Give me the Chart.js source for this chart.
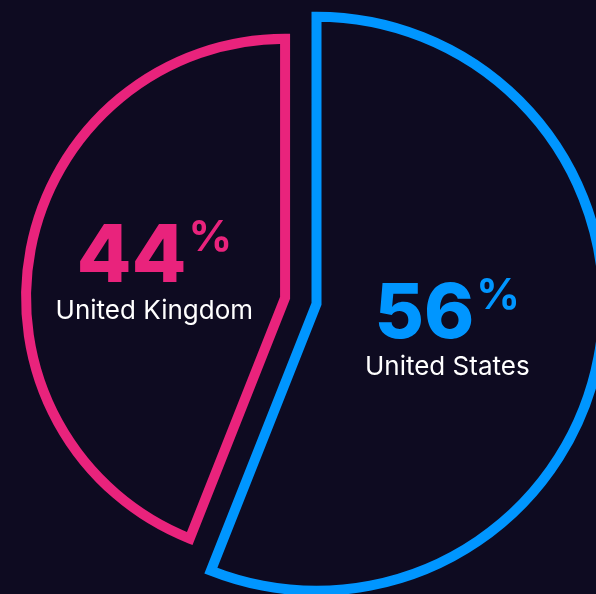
<!DOCTYPE html>
<html>
<head>
<meta charset="utf-8">
<script src="https://cdn.jsdelivr.net/npm/chart.js@4.4.1/dist/chart.umd.min.js"></script>
<style>
  html, body { margin: 0; padding: 0; background: #0e0b21; }
  #wrap { position: relative; width: 596px; height: 594px; }
</style>
</head>
<body>
<div id="wrap"><canvas id="share-chart"></canvas></div>
<script>
var countries = ["United States", "United Kingdom"];
var shares = [56, 44];

// looks
var lineColors = ["#0096ff", "#e9237c"];
var explode = [28, 4];        // px each slice is pushed out from the middle
var sliceRadii = [287, 259];  // outer radius of each slice, px
var numberSizes = [76, 80];

// push the slices apart and give them their own radius
var explodeSlices = {
    id: 'explodeSlices',
    afterDatasetUpdate: function(chart, args) {
        args.meta.data.forEach(function(arc, i) {
            var mid = (arc.startAngle + arc.endAngle) / 2;
            arc.x += Math.cos(mid) * explode[i];
            arc.y += Math.sin(mid) * explode[i];
            arc.outerRadius = sliceRadii[i];
        });
    }
};

// big number + % + country name in the middle of each slice
var sliceLabels = {
    id: 'sliceLabels',
    afterDatasetsDraw: function(chart) {
        var ctx = chart.ctx;
        var meta = chart.getDatasetMeta(0);
        var baseR = meta.controller.outerRadius;
        meta.data.forEach(function(arc, i) {
            var mid = (arc.startAngle + arc.endAngle) / 2;
            var dist = baseR * 0.52;
            var ax = arc.x + Math.cos(mid) * dist;
            var ay = arc.y + Math.sin(mid) * dist;

            ctx.save();
            ctx.textBaseline = 'alphabetic';

            var numText = String(shares[i]);
            ctx.font = '800 ' + numberSizes[i] + 'px Inter';
            var nm = ctx.measureText(numText);
            ctx.font = '700 43px Inter';
            var pm = ctx.measureText('%');
            var gap = 2;
            var total = nm.width + gap + pm.width;
            var x0 = ax - total / 2;

            var nameBase = ay + 46;
            var numBase = nameBase - 37;
            var numTop = numBase - nm.actualBoundingBoxAscent;

            ctx.fillStyle = lineColors[i];
            ctx.textAlign = 'left';
            ctx.font = '800 ' + numberSizes[i] + 'px Inter';
            ctx.fillText(numText, x0, numBase);
            ctx.font = '700 43px Inter';
            ctx.fillText('%', x0 + nm.width + gap, numTop - 4 + pm.actualBoundingBoxAscent);

            ctx.fillStyle = '#ffffff';
            ctx.textAlign = 'center';
            ctx.font = '400 26px Inter';
            ctx.fillText(countries[i], ax, nameBase);
            ctx.restore();
        });
    }
};

new Chart(document.getElementById("share-chart"), {
    type: 'pie',
    data: {
        labels: countries,
        datasets: [
            {
                data: shares,
                backgroundColor: 'rgba(0,0,0,0)',
                borderColor: lineColors,
                borderWidth: 10,
                borderJoinStyle: 'miter',
                hoverOffset: 0,
                radius: 256
            }
        ]
    },
    options: {
        responsive: true,
        maintainAspectRatio: false,
        animation: false,
        events: [],
        layout: {
            padding: { left: 0, right: 18, top: 3, bottom: 0 }
        },
        plugins: {
            legend: { display: false },
            tooltip: { enabled: false }
        }
    },
    plugins: [explodeSlices, sliceLabels]
});
</script>
</body>
</html>
